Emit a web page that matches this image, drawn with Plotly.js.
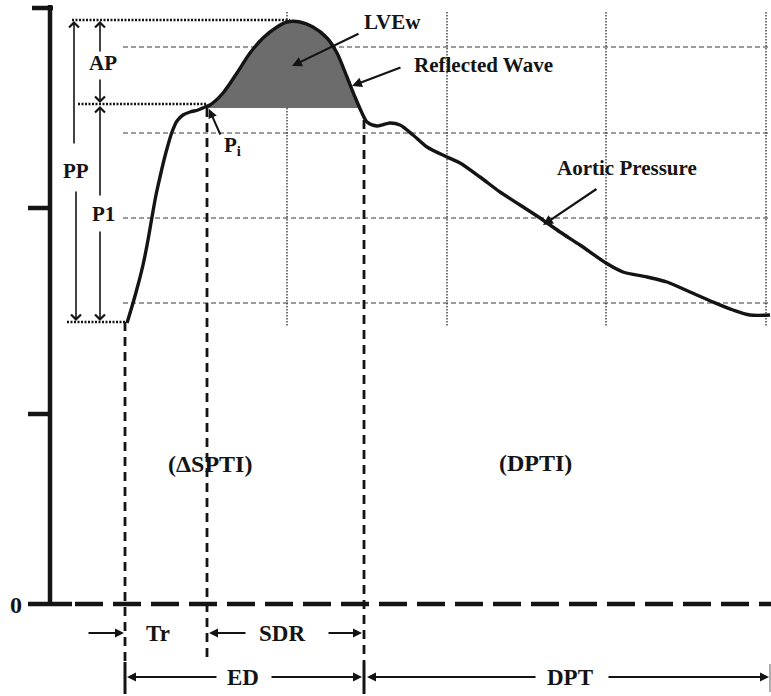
<!DOCTYPE html>
<html>
<head>
<meta charset="utf-8">
<script src="https://cdn.plot.ly/plotly-3.0.1.min.js"></script>
<style>html,body{margin:0;padding:0;background:#fff;}#chart{width:771px;height:696px;}</style>
</head>
<body>
<div id="chart"></div>
<script>
// Aortic pressure waveform (x = time position, y = vertical position, page-like units, y grows downward)
const curveX = [127,133,138,143,148,152,156,160,164,168,172,177,183,190,198,205,210,223,237,250,263,277,287,300,313,327,337,347,355,362,367,377,390,400,413,427,447,460,480,500,520,540,560,580,606,623,647,667,690,713,733,750,770];
const curveY = [323,303,285,265,240,217,195,177,160,145,132,121,115,112,110,107,105,93,73,53,38,27,22,22,27,38,53,77,97,113,122,126,123,125,135,147,157,163,177,192,205,218,232,245,263,272,277,282,292,302,310,315,315];

// LVEw shaded region: bounded by inflection level and the systolic peak part of the curve
const lvewBase = 108;
const lvewStart = 207;
const lvewEnd = 359;

// Axis and grid
const axisX = 50;
const axisTop = 5;
const zeroY = 604;
const axisTicks = [8, 208, 414];
const gridY = [47, 133, 218, 303];
const gridX = [287, 447, 606, 766];

// Reference levels (dotted)
const peakY = 20;
const inflectionY = 104;
const footY = 322;

// Time markers
const footX = 125;
const inflectionX = 207;
const ejectionEndX = 364;
const cycleEndX = 770;

// Labels
const labelText = ['AP','PP','P1','P<sub>i</sub>','LVEw','Reflected Wave','Aortic Pressure','(ΔSPTI)','(DPTI)','0','Tr','SDR','ED','DPT'];
const labelX =    [103, 76, 103, 232, 392, 483, 627, 210, 535, 16, 158, 282, 243, 570];
const labelY =    [63, 171, 214, 146, 22, 65, 168, 464, 463, 605, 633, 633, 677, 677];
const labelSize = [21, 21, 21, 21, 21, 21, 21, 24, 24, 24, 23, 23, 23, 23];

const black = '#141414';
const serif = 'Liberation Serif, Times New Roman, serif';

const traces = [];
// shaded LVEw area
const fx = [lvewStart], fy = [lvewBase];
for (let i = 0; i < curveX.length; i++) {
  if (curveX[i] > lvewStart && curveX[i] < lvewEnd && curveY[i] <= lvewBase) { fx.push(curveX[i]); fy.push(curveY[i]); }
}
fx.push(lvewEnd); fy.push(lvewBase);
traces.push({x: fx, y: fy, type: 'scatter', mode: 'lines', fill: 'toself', fillcolor: '#6c6c6c',
  line: {width: 0, shape: 'spline', smoothing: 0.8}, hoverinfo: 'skip'});
// pressure curve
traces.push({x: curveX, y: curveY, type: 'scatter', mode: 'lines',
  line: {color: black, width: 3.4, shape: 'spline', smoothing: 0.8}, hoverinfo: 'skip'});

const shapes = [];
function ln(x0, y0, x1, y1, w, dash, color) {
  shapes.push({type: 'line', xref: 'x', yref: 'y', x0: x0, y0: y0, x1: x1, y1: y1,
    line: {color: color || black, width: w, dash: dash || 'solid'}, layer: 'below'});
}
// grid
gridY.forEach(y => ln(123, y, 771, y, 1.2, '5px,3px', '#3a3a3a'));
gridX.forEach(x => ln(x, 12, x, 326, 1.4, '1.5px,1.5px', '#3a3a3a'));
// dotted reference levels
ln(72, peakY, 290, peakY, 2.6, '2px,1.5px');
ln(78, inflectionY, inflectionX, inflectionY, 2.6, '2px,1.5px');
ln(67, footY, footX, footY, 2.6, '2px,1.5px');
// vertical dashed markers
ln(footX, footY, footX, 662, 2.8, '9px,6px');
ln(inflectionX, inflectionY + 4, inflectionX, 662, 2.8, '9px,6px');
ln(ejectionEndX, 120, ejectionEndX, 662, 2.8, '9px,6px');
// solid end bars
ln(footX, 662, footX, 694, 3);
ln(ejectionEndX, 662, ejectionEndX, 694, 3);
ln(cycleEndX, 664, cycleEndX, 692, 1.2, 'solid', '#777');
// axis
ln(axisX, axisTop, axisX, zeroY + 2, 4.5);
ln(32, axisTicks[0], 53, axisTicks[0], 4.5);
axisTicks.slice(1).forEach(y => ln(28, y, axisX, y, 4.5));
ln(28, zeroY, 72, zeroY, 4.5);
ln(75, zeroY, 771, zeroY, 4.5, '28px,10px');

const ann = [];
function arrow(tx, ty, hx, hy, head, size, width) {
  ann.push({x: hx, y: hy, ax: tx, ay: ty, xref: 'x', yref: 'y', axref: 'x', ayref: 'y', text: '',
    showarrow: true, arrowhead: head, arrowsize: size, arrowwidth: width, arrowcolor: black, standoff: 0});
}
// vertical double arrows (open heads)
arrow(74, 145, 74, peakY + 1, 4, 1.2, 1.6);
arrow(76, 190, 76, footY - 1, 4, 1.2, 1.6);
arrow(100, 53, 100, peakY + 1, 4, 1.2, 1.6);
arrow(100, 78, 100, inflectionY - 1, 4, 1.2, 1.6);
arrow(100, 197, 100, inflectionY + 2, 4, 1.2, 1.6);
arrow(100, 230, 100, footY - 1, 4, 1.2, 1.6);
// pointers
arrow(221, 136, 209, 109, 2, 0.9, 2);
arrow(360, 33, 292, 66, 2, 0.9, 2.2);
arrow(402, 67, 352, 86, 2, 0.9, 2.2);
arrow(598, 188, 543, 225, 2, 0.9, 2.2);
// time spans
arrow(87, 633, footX - 1, 633, 2, 0.9, 2);
arrow(247, 633, inflectionX + 2, 633, 2, 0.9, 2);
arrow(327, 633, ejectionEndX - 2, 633, 2, 0.9, 2);
arrow(218, 677, footX + 2, 677, 2, 0.9, 2);
arrow(270, 677, ejectionEndX - 2, 677, 2, 0.9, 2);
arrow(537, 677, ejectionEndX + 3, 677, 2, 0.9, 2);
arrow(607, 677, cycleEndX - 1, 677, 2, 0.9, 2);

labelText.forEach((t, i) => ann.push({x: labelX[i], y: labelY[i], xref: 'x', yref: 'y', text: '<b>' + t + '</b>',
  showarrow: false, xanchor: 'center', yanchor: 'middle', font: {family: serif, size: labelSize[i], color: black}}));

const layout = {
  width: 771, height: 696, margin: {l: 0, r: 0, t: 0, b: 0},
  paper_bgcolor: '#fff', plot_bgcolor: '#fff', showlegend: false,
  xaxis: {range: [0, 771], visible: false, fixedrange: true},
  yaxis: {range: [696, 0], visible: false, fixedrange: true},
  shapes: shapes, annotations: ann
};
Plotly.newPlot('chart', traces, layout, {staticPlot: true, displayModeBar: false});
</script>
</body>
</html>
